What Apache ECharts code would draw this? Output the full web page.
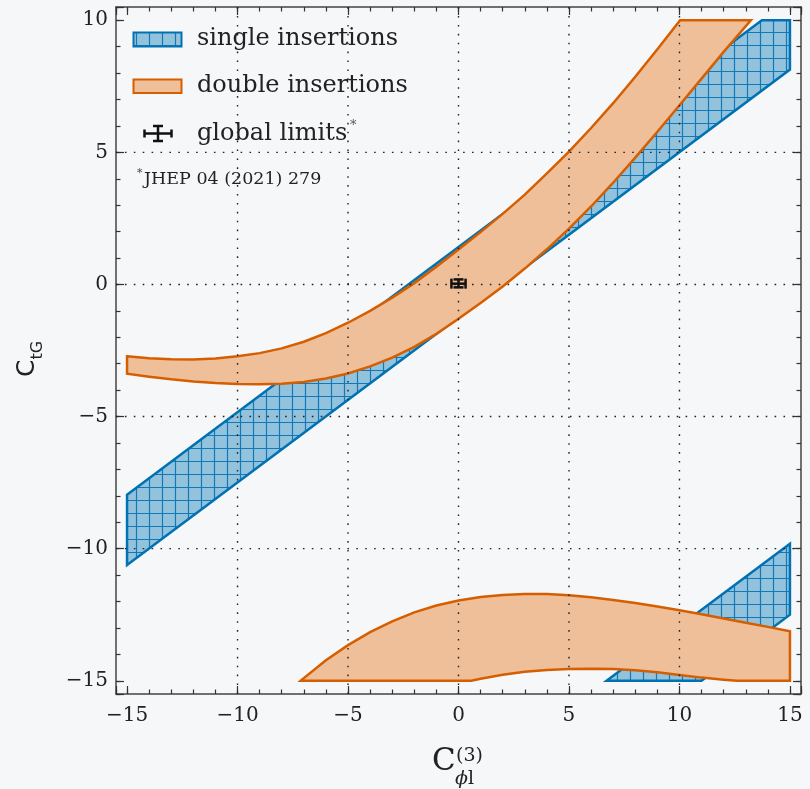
<!DOCTYPE html>
<html><head><meta charset="utf-8">
<script src="https://cdn.jsdelivr.net/npm/echarts@6/dist/echarts.min.js"></script>
<style>html,body{margin:0;padding:0;background:#f6f7f9;} #c{width:810px;height:789px;}</style>
</head><body><div id="c"></div>
<script>
// ---------- data ----------
// single insertions: two straight bands (vertices)
const singleA_x = [-15, 13.73, 15, 15, -15];
const singleA_y = [-7.955, 10, 10, 8.13, -10.62];
const singleB_x = [6.7, 15, 15, 11.0];
const singleB_y = [-15, -9.81, -12.5, -15];

// double insertions, main band
const dblUpper_x = [-15, -14, -13, -12, -11, -10, -9, -8, -7, -6, -5, -4, -3, -2, -1, 0, 1, 2, 3, 4, 5, 6, 7, 8, 9, 10.03];
const dblUpper_y = [-2.72, -2.79, -2.83, -2.84, -2.8, -2.72, -2.6, -2.42, -2.17, -1.84, -1.45, -1.0, -0.5, 0.05, 0.67, 1.32, 1.98, 2.67, 3.4, 4.2, 5.03, 5.92, 6.86, 7.86, 8.9, 10.0];
const dblLower_x = [-15, -14, -13, -12, -11, -10, -9, -8, -7, -6, -5, -4, -3, -2, -1, 0, 1, 2, 3, 4, 5, 6, 7, 8, 9, 10, 11, 12, 13.23];
const dblLower_y = [-3.38, -3.49, -3.59, -3.67, -3.73, -3.77, -3.78, -3.76, -3.69, -3.56, -3.37, -3.1, -2.77, -2.36, -1.87, -1.3, -0.7, -0.08, 0.6, 1.33, 2.11, 2.95, 3.85, 4.8, 5.78, 6.78, 7.79, 8.8, 10.0];

// double insertions, bottom band
const dblBotUpper_x = [-7.14, -7, -6, -5, -4, -3, -2, -1, 0, 1, 2, 3, 4, 5, 6, 7, 8, 9, 10, 11, 12, 13, 14, 15];
const dblBotUpper_y = [-15, -14.9, -14.22, -13.65, -13.16, -12.75, -12.41, -12.15, -11.96, -11.83, -11.75, -11.72, -11.72, -11.76, -11.84, -11.94, -12.06, -12.19, -12.33, -12.48, -12.64, -12.8, -12.96, -13.13];
const dblBotLower_x = [-7.14, 0.58, 1, 2, 3, 4, 5, 6, 7, 8, 9, 10, 11, 12, 12.6, 15];
const dblBotLower_y = [-15, -15, -14.92, -14.77, -14.66, -14.59, -14.55, -14.54, -14.55, -14.6, -14.68, -14.78, -14.88, -14.96, -15, -15];

// global limits (point with error bars)
const globalX = [0];
const globalY = [0.03];
const globalXErr = [0.32];
const globalYErrLo = [0.14];
const globalYErrHi = [0.16];

// axis ranges, grid lines
const X_MIN = -15.5, X_MAX = 15.5, Y_MIN = -15.5, Y_MAX = 10.5;
const gridLinesX = [-10, -5, 0, 5, 10];
const gridLinesY = [-10, -5, 0, 5];

// ---------- styles ----------
const BLUE = '#0072b2', ORANGE = '#d55e00', ORANGE_FILL = '#efbf99';
const SERIF = "'DejaVu Serif', serif";
const SANS = "'DejaVu Sans', sans-serif";

const hatch = document.createElement('canvas');
hatch.width = 13; hatch.height = 13;
(function () {
  const g = hatch.getContext('2d');
  g.fillStyle = 'rgba(0,114,178,0.4)';
  g.fillRect(0, 0, 13, 13);
  g.strokeStyle = 'rgba(0,114,178,0.9)';
  g.lineWidth = 1.2;
  g.beginPath();
  g.moveTo(6.5, 0); g.lineTo(6.5, 13);
  g.moveTo(0, 6.5); g.lineTo(13, 6.5);
  g.stroke();
})();
const hatchFill = { image: hatch, repeat: 'repeat' };

function zip(xs, ys) { return xs.map((x, i) => [x, ys[i]]); }
const polySingleA = zip(singleA_x, singleA_y);
const polySingleB = zip(singleB_x, singleB_y);
const polyDblMain = zip(dblUpper_x, dblUpper_y).concat(zip(dblLower_x, dblLower_y).reverse());
const polyDblBot = zip(dblBotUpper_x, dblBotUpper_y).concat(zip(dblBotLower_x, dblBotLower_y).reverse());

function polySeries(name, pts, style, z) {
  return {
    type: 'custom', name, z, silent: true, data: [[0, 0]],
    renderItem: function (params, api) {
      return { type: 'polygon', shape: { points: pts.map(p => api.coord(p)) }, style: style };
    }
  };
}

function fmt(v) {
  if (Math.abs(v - Math.round(v / 5) * 5) > 1e-6) return '';
  return v < 0 ? '\u2212' + (-v) : String(v);
}

const frameLine = { show: true, onZero: false, lineStyle: { color: '#444', width: 1.5 } };
function xAx(pos, major) {
  return {
    type: 'value', position: pos, min: X_MIN, max: X_MAX, splitNumber: major ? 6 : 31,
    axisLine: major ? frameLine : { show: false, onZero: false },
    axisTick: { show: true, inside: true, length: major ? 8 : 4.5, lineStyle: { color: '#333', width: 1.2 } },
    axisLabel: (major && pos === 'bottom') ? { show: true, formatter: fmt, margin: 12, fontFamily: SERIF, fontSize: 20, color: '#222' } : { show: false },
    splitLine: { show: false }
  };
}
function yAx(pos, major) {
  return {
    type: 'value', position: pos, min: Y_MIN, max: Y_MAX, splitNumber: major ? 5 : 26,
    axisLine: major ? frameLine : { show: false, onZero: false },
    axisTick: { show: true, inside: true, length: major ? 8 : 4.5, lineStyle: { color: '#333', width: 1.2 } },
    axisLabel: (major && pos === 'left') ? { show: true, formatter: fmt, margin: 8, fontFamily: SERIF, fontSize: 20, color: '#222' } : { show: false },
    splitLine: { show: false }
  };
}

const dotted = { stroke: '#222', lineWidth: 1.4, lineDash: [1.6, 7.3] };

const chart = echarts.init(document.getElementById('c'), null, { renderer: 'canvas' });

const option = {
  backgroundColor: '#f6f7f9',
  animation: false,
  grid: { left: 116, top: 7, width: 685, height: 687 },
  xAxis: [xAx('bottom', true), xAx('bottom', false), xAx('top', true), xAx('top', false)],
  yAxis: [yAx('left', true), yAx('left', false), yAx('right', true), yAx('right', false)],
  series: [
    polySeries('single insertions', polySingleA, { fill: hatchFill, stroke: BLUE, lineWidth: 2.5, lineJoin: 'miter' }, 2),
    polySeries('single insertions B', polySingleB, { fill: hatchFill, stroke: BLUE, lineWidth: 2.5, lineJoin: 'miter' }, 2),
    polySeries('double insertions', polyDblMain, { fill: ORANGE_FILL, stroke: ORANGE, lineWidth: 2.5, lineJoin: 'miter' }, 3),
    polySeries('double insertions B', polyDblBot, { fill: ORANGE_FILL, stroke: ORANGE, lineWidth: 2.5, lineJoin: 'miter' }, 3),
    {
      type: 'custom', name: 'gridV', z: 4, silent: true, data: gridLinesX.map(v => [v, 0]),
      renderItem: function (params, api) {
        const v = api.value(0);
        const a = api.coord([v, Y_MIN]), b = api.coord([v, Y_MAX]);
        return { type: 'line', shape: { x1: a[0], y1: a[1], x2: b[0], y2: b[1] }, style: dotted };
      }
    },
    {
      type: 'custom', name: 'gridH', z: 4, silent: true, data: gridLinesY.map(v => [0, v]),
      renderItem: function (params, api) {
        const v = api.value(1);
        const a = api.coord([X_MIN, v]), b = api.coord([X_MAX, v]);
        return { type: 'line', shape: { x1: a[0], y1: a[1], x2: b[0], y2: b[1] }, style: dotted };
      }
    },
    {
      type: 'custom', name: 'global limits', z: 5, silent: true,
      data: globalX.map((x, i) => [x, globalY[i], globalXErr[i], globalYErrLo[i], globalYErrHi[i]]),
      renderItem: function (params, api) {
        const x = api.value(0), y = api.value(1), ex = api.value(2), eyl = api.value(3), eyh = api.value(4);
        const l = api.coord([x - ex, y]), r = api.coord([x + ex, y]);
        const t = api.coord([x, y + eyh]), b = api.coord([x, y - eyl]);
        const st = { stroke: '#111', lineWidth: 2.5 };
        const c = 5;
        const L = (x1, y1, x2, y2) => ({ type: 'line', shape: { x1, y1, x2, y2 }, style: st });
        return { type: 'group', children: [
          L(l[0], l[1], r[0], r[1]), L(t[0], t[1], b[0], b[1]),
          L(t[0] - c, t[1], t[0] + c, t[1]), L(b[0] - c, b[1], b[0] + c, b[1]),
          L(l[0], l[1] - c, l[0], l[1] + c), L(r[0], r[1] - c, r[0], r[1] + c)
        ] };
      }
    }
  ],
  graphic: [
    // legend
    { type: 'rect', shape: { x: 133.5, y: 32.5, width: 48, height: 14 }, style: { fill: hatchFill, stroke: BLUE, lineWidth: 2 }, z: 10 },
    { type: 'text', x: 197, y: 39, style: { text: 'single insertions', font: '24px ' + SERIF, fill: '#222', verticalAlign: 'middle' }, z: 10 },
    { type: 'rect', shape: { x: 133.5, y: 79.5, width: 48, height: 13.5 }, style: { fill: ORANGE_FILL, stroke: ORANGE, lineWidth: 2 }, z: 10 },
    { type: 'text', x: 197, y: 85.5, style: { text: 'double insertions', font: '24px ' + SERIF, fill: '#222', verticalAlign: 'middle' }, z: 10 },
    { type: 'group', z: 10, children: [
      { type: 'line', shape: { x1: 144.5, y1: 133.5, x2: 171.5, y2: 133.5 }, style: { stroke: '#111', lineWidth: 2.5 } },
      { type: 'line', shape: { x1: 158, y1: 126, x2: 158, y2: 141 }, style: { stroke: '#111', lineWidth: 2.5 } },
      { type: 'line', shape: { x1: 153, y1: 126, x2: 163, y2: 126 }, style: { stroke: '#111', lineWidth: 2.5 } },
      { type: 'line', shape: { x1: 153, y1: 141, x2: 163, y2: 141 }, style: { stroke: '#111', lineWidth: 2.5 } },
      { type: 'line', shape: { x1: 144.5, y1: 129.5, x2: 144.5, y2: 137.5 }, style: { stroke: '#111', lineWidth: 2.5 } },
      { type: 'line', shape: { x1: 171.5, y1: 129.5, x2: 171.5, y2: 137.5 }, style: { stroke: '#111', lineWidth: 2.5 } }
    ] },
    { type: 'text', x: 197, y: 134, style: { text: 'global limits', font: '24px ' + SERIF, fill: '#222', verticalAlign: 'middle' }, z: 10 },
    { type: 'text', x: 350, y: 126, style: { text: '*', font: '13px ' + SERIF, fill: '#555', verticalAlign: 'middle' }, z: 10 },
    { type: 'text', x: 137, y: 173, style: { text: '*', font: '11px ' + SERIF, fill: '#444', verticalAlign: 'middle' }, z: 10 },
    { type: 'text', x: 144, y: 179.5, style: { text: 'JHEP 04 (2021) 279', font: '17.5px ' + SERIF, fill: '#222', verticalAlign: 'middle' }, z: 10 },
    // x axis title
    { type: 'text', x: 432, y: 762, style: { text: 'C', font: '31px ' + SERIF, fill: '#222', verticalAlign: 'middle' } },
    { type: 'text', x: 456, y: 756, style: { text: '(3)', font: '19px ' + SERIF, fill: '#222', verticalAlign: 'middle' } },
    { type: 'text', x: 455, y: 779, style: { text: '{i|\u03d5}l', font: '19px ' + SERIF, fill: '#222', verticalAlign: 'middle', rich: { i: { fontStyle: 'italic', fontFamily: SERIF, fontSize: 19 } } } },
    // y axis title (rotated)
    { type: 'group', x: 27, y: 377, rotation: Math.PI / 2, children: [
      { type: 'text', x: 0, y: 0, style: { text: 'C', font: '25px ' + SANS, fill: '#222', verticalAlign: 'middle' } },
      { type: 'text', x: 17.5, y: 11, style: { text: 'tG', font: '16px ' + SANS, fill: '#222', verticalAlign: 'middle' } }
    ] }
  ]
};
chart.setOption(option);
</script></body></html>
